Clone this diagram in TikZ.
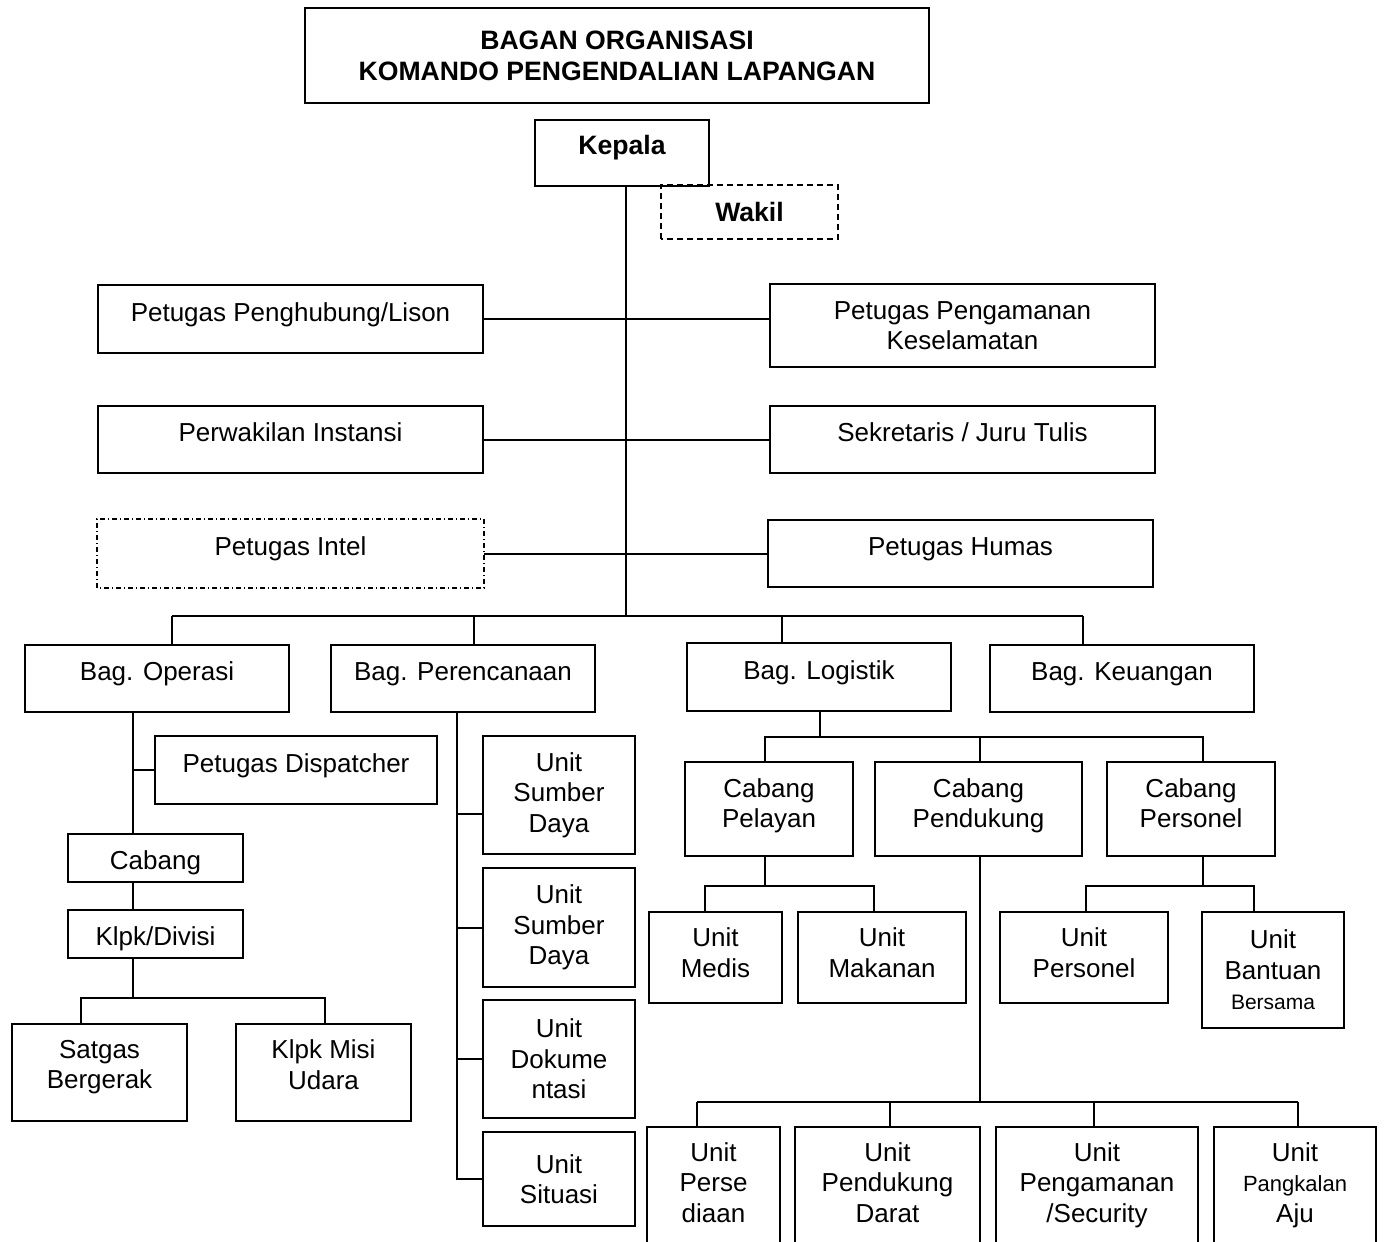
\documentclass[tikz,border=0pt]{standalone}
\usepackage{fontspec}
\setmainfont{Liberation Sans}

\begin{document}
\begin{tikzpicture}[x=0.5pt, y=-0.5pt,
        box/.style={draw, line width=1pt, align=center, inner sep=0pt,
            font=\fontsize{13}{15.25}\selectfont},
        upper/.style={text height=9.5pt, text depth=7.5pt},
        lower/.style={text height=14.5pt, text depth=2.7pt},
        headbox/.style={box, font=\bfseries\fontsize{13.3}{15.5}\selectfont},
        link/.style={line width=1pt}]
    \clip (0,0) rectangle (1384,1241);

    % puncak
    \node[headbox, minimum width=312pt, minimum height=47.5pt] (judul) at (617,55.5) {BAGAN ORGANISASI\\KOMANDO PENGENDALIAN LAPANGAN};
    \node[headbox, upper, minimum width=87pt, minimum height=33pt] (kepala) at (622,153) {Kepala};
    \node[headbox, draw=none, minimum width=87.5pt, minimum height=26pt] (wakil) at (749.5,212) {Wakil};
    \draw[line width=1pt, dash pattern=on 3pt off 2pt] (wakil.south west) rectangle (wakil.north east);

    % staf samping
    \node[box, upper, minimum width=192.5pt, minimum height=34pt] (lison) at (290.5,319) {Petugas Penghubung/Lison};
    \node[box, minimum width=192.5pt, minimum height=41.5pt] (aman) at (962.5,325.5) {Petugas Pengamanan\\Keselamatan};
    \node[box, upper, minimum width=192.5pt, minimum height=33.5pt] (perwakilan) at (290.5,439.5) {Perwakilan Instansi};
    \node[box, upper, minimum width=192.5pt, minimum height=33.5pt] (sekretaris) at (962.5,439.5) {Sekretaris / Juru Tulis};
    \node[box, upper, draw=none, minimum width=192.5pt, minimum height=33.5pt] (intel) at (290.5,553.5) {Petugas Intel};
    \draw[line width=0.8pt, dash pattern=on 2.5pt off 1.5pt on 0.5pt off 1.5pt] (intel.south west) rectangle (intel.north east);
    \node[box, upper, minimum width=192.5pt, minimum height=33.5pt] (humas) at (960.5,553.5) {Petugas Humas};

    \coordinate (atas) at (626,186);
    \coordinate (bus) at (626,616);
    \draw[link] (atas) -- (bus);
    \draw[link] (lison.east) -- (lison.east -| aman.west);
    \draw[link] (perwakilan.east) -- (perwakilan.east -| sekretaris.west);
    \draw[link] (intel.east) -- (intel.east -| humas.west);

    % bagian
    \node[box, upper, minimum width=132pt, minimum height=33.5pt] (operasi) at (157,678.5) {Bag. Operasi};
    \node[box, upper, minimum width=132pt, minimum height=33.5pt] (rencana) at (463,678.5) {Bag. Perencanaan};
    \node[box, upper, minimum width=132pt, minimum height=34pt] (logistik) at (819,677) {Bag. Logistik};
    \node[box, upper, minimum width=132pt, minimum height=33.5pt] (keuangan) at (1122,678.5) {Bag. Keuangan};

    \coordinate (b1) at (172,616);
    \coordinate (b2) at (474,616);
    \coordinate (b3) at (782,616);
    \coordinate (b4) at (1083,616);
    \draw[link] (b1) -- (b4);
    \foreach \p/\q in {b1/operasi, b2/rencana, b3/logistik, b4/keuangan}
        \draw[link] (\p) -- (\p |- \q.north);

    % operasi
    \node[box, upper, minimum width=141pt, minimum height=34pt] (dispatcher) at (296,770) {Petugas Dispatcher};
    \node[box, lower, minimum width=87.5pt, minimum height=24pt] (cabang) at (155.5,858) {Cabang};
    \node[box, lower, minimum width=87.5pt, minimum height=24pt] (klpk) at (155.5,934) {Klpk/Divisi};
    \node[box, text depth=8pt, minimum width=87.5pt, minimum height=48.5pt] (satgas) at (99.5,1072.5) {Satgas\\Bergerak};
    \node[box, text depth=8pt, minimum width=87.5pt, minimum height=48.5pt] (misi) at (323.5,1072.5) {Klpk Misi\\Udara};

    \coordinate (o1) at (133,712);
    \coordinate (o2) at (133,998);
    \coordinate (s1) at (81,998);
    \coordinate (s2) at (325,998);
    \draw[link] (o1) -- (o1 |- cabang.north);
    \draw[link] (o1 |- dispatcher.west) -- (dispatcher.west);
    \draw[link] (o1 |- cabang.south) -- (o1 |- klpk.north);
    \draw[link] (o1 |- klpk.south) -- (o2);
    \draw[link] (s1 |- satgas.north) -- (s1) -- (s2) -- (s2 |- misi.north);

    % perencanaan
    \node[box, minimum width=76pt, minimum height=59pt] (sdaya1) at (559,795) {Unit\\Sumber\\Daya};
    \node[box, minimum width=76pt, minimum height=59.5pt] (sdaya2) at (559,927.5) {Unit\\Sumber\\Daya};
    \node[box, minimum width=76pt, minimum height=59pt] (dokumen) at (559,1059) {Unit\\Dokume\\ntasi};
    \node[box, minimum width=76pt, minimum height=47pt] (situasi) at (559,1179) {Unit\\Situasi};

    \coordinate (r1) at (457,712);
    \draw[link] (r1) |- (situasi.west);
    \draw[link] ([yshift=-9.5pt]r1 |- sdaya1.west) -- ([yshift=-9.5pt]sdaya1.west);
    \foreach \u in {sdaya2, dokumen}
        \draw[link] (r1 |- \u.west) -- (\u.west);

    % logistik
    \node[box, text depth=6pt, minimum width=84pt, minimum height=47pt] (pelayan) at (769,809) {Cabang\\Pelayan};
    \node[box, text depth=6pt, minimum width=103.5pt, minimum height=47pt] (pendukung) at (978.5,809) {Cabang\\Pendukung};
    \node[box, text depth=6pt, minimum width=84pt, minimum height=47pt] (personel) at (1191,809) {Cabang\\Personel};
    \node[box, text depth=5pt, minimum width=66.5pt, minimum height=45.5pt] (medis) at (715.5,957.5) {Unit\\Medis};
    \node[box, text depth=5pt, minimum width=84pt, minimum height=45.5pt] (makanan) at (882,957.5) {Unit\\Makanan};
    \node[box, text depth=5pt, minimum width=84pt, minimum height=45.5pt] (upersonel) at (1084,957.5) {Unit\\Personel};
    \node[box, minimum width=71pt, minimum height=58pt] (bantuan) at (1273,970) {Unit\\Bantuan\\{\fontsize{10.5}{12}\selectfont Bersama}};

    \coordinate (l0) at (820,737);
    \coordinate (l1) at (765,737);
    \coordinate (l2) at (980,737);
    \coordinate (l3) at (1203,737);
    \draw[link] (logistik.south -| l0) -- (l0);
    \draw[link] (l1 |- pelayan.north) -- (l1) -- (l3) -- (l3 |- personel.north);
    \draw[link] (l2) -- (l2 |- pendukung.north);

    \coordinate (p1) at (705,886);
    \coordinate (p2) at (874,886);
    \draw[link] (l1 |- pelayan.south) -- (l1 |- p1);
    \draw[link] (p1 |- medis.north) -- (p1) -- (p2) -- (p2 |- makanan.north);

    \coordinate (q1) at (1086,886);
    \coordinate (q2) at (1254,886);
    \draw[link] (l3 |- personel.south) -- (l3 |- q1);
    \draw[link] (q1 |- upersonel.north) -- (q1) -- (q2) -- (q2 |- bantuan.north);

    % unit pendukung
    \node[box, text depth=6pt, minimum width=66.5pt, minimum height=61.5pt] (persediaan) at (713.5,1188.5) {Unit\\Perse\\diaan};
    \node[box, text depth=6pt, minimum width=92.5pt, minimum height=61.5pt] (darat) at (887.5,1188.5) {Unit\\Pendukung\\Darat};
    \node[box, text depth=6pt, minimum width=101pt, minimum height=61.5pt] (security) at (1097,1188.5) {Unit\\Pengamanan\\/Security};
    \node[box, text depth=6pt, minimum width=81pt, minimum height=61.5pt] (pangkalan) at (1295,1188.5) {Unit\\{\fontsize{11}{13}\selectfont Pangkalan}\\Aju};

    \coordinate (d0) at (980,1102);
    \coordinate (d1) at (697,1102);
    \coordinate (d2) at (890,1102);
    \coordinate (d3) at (1094,1102);
    \coordinate (d4) at (1298,1102);
    \draw[link] (l2 |- pendukung.south) -- (d0);
    \draw[link] (d1) -- (d4);
    \foreach \p/\q in {d1/persediaan, d2/darat, d3/security, d4/pangkalan}
        \draw[link] (\p) -- (\p |- \q.north);
\end{tikzpicture}
\end{document}
